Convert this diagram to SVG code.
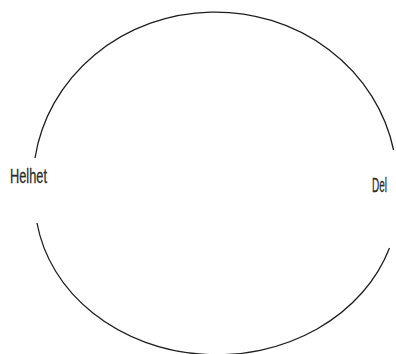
<svg xmlns="http://www.w3.org/2000/svg" width="396" height="354" viewBox="0 0 396 354">
<style>
.arc{fill:none;stroke:#1e1e1e;stroke-width:1.3}
.lbl{font-family:"Liberation Sans Narrow","Liberation Sans",Arial,sans-serif;font-size:21px;fill:#2a2a2a;stroke:#2a2a2a;stroke-width:0.3}
</style>
<rect width="396" height="354" fill="#ffffff"/>
<g id="connectors">
<path class="arc" d="M35,158 A182 171 0 0 1 393.6,150"/>
<path class="arc" d="M37,223 A182 156 0 0 0 389.5,248"/>
</g>
<g id="helhet"><text class="lbl" x="10" y="183" textLength="37" lengthAdjust="spacingAndGlyphs">Helhet</text></g>
<g id="del"><text class="lbl" transform="translate(372,192) scale(0.6,1)" x="0" y="0" textLength="25" lengthAdjust="spacingAndGlyphs">Del</text></g>
</svg>
